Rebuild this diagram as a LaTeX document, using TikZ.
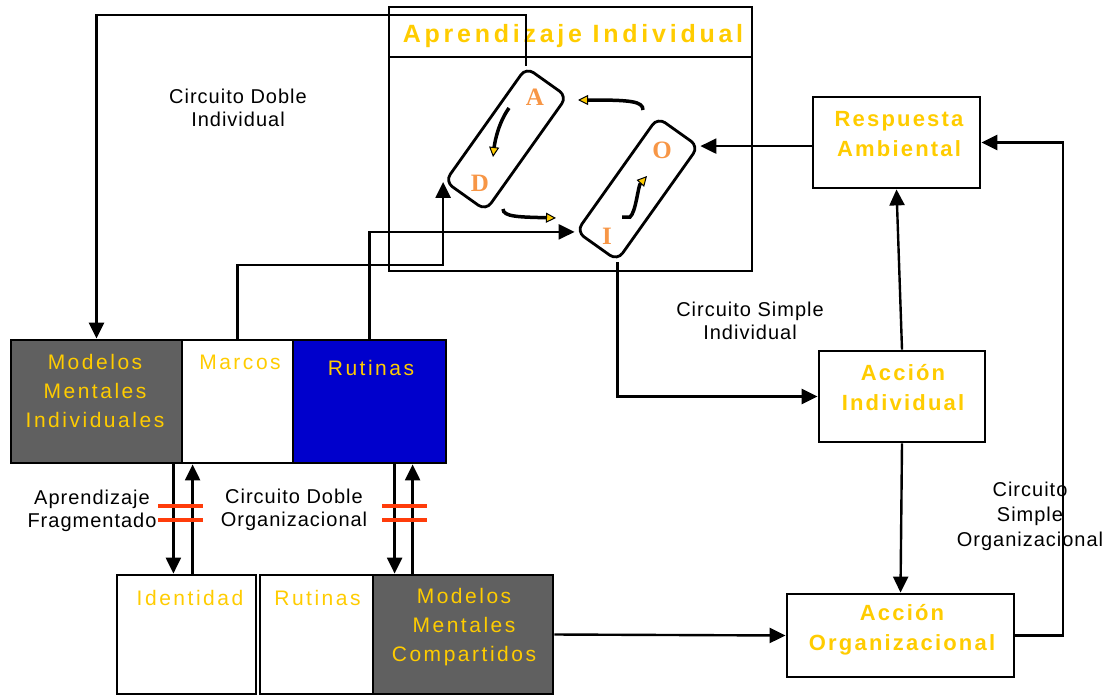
\documentclass[tikz,border=0pt]{standalone}
\usepackage{fontspec}
\usepackage{tikz}
\usetikzlibrary{arrows.meta,positioning,calc}
\setmainfont{Liberation Sans}
\newfontfamily\labfont[LetterSpace=5]{Liberation Sans}
\newfontfamily\yelfont[LetterSpace=12]{Liberation Sans}
\newfontfamily\yelbold[LetterSpace=10]{Liberation Sans Bold}
\newfontfamily\titfont[LetterSpace=15]{Liberation Sans Bold}
\newfontfamily\letfont{Liberation Serif Bold}
\definecolor{ayellow}{RGB}{255,204,0}
\definecolor{lorange}{RGB}{247,150,70}
\definecolor{dgray}{RGB}{96,96,96}
\definecolor{rblue}{RGB}{0,0,204}
\definecolor{rbar}{RGB}{255,60,10}
\tikzset{
    boxline/.style={
        draw=black,
        line width=2.8pt,
        inner sep=0pt
    },
    cyclebox/.style={
        draw=black,
        line width=2.8pt,
        rounded corners=9pt,
        rotate=54.6,
        minimum width=140pt,
        minimum height=50pt,
        inner sep=0pt
    },
    % flechas principales
    mainarrow/.style={
        line width=2.4pt,
        black,
        -{Triangle[length=16pt, width=15pt]}
    },
    cyclearrow/.style={
        line width=3.5pt,
        black,
        -{Triangle[length=10pt, width=10pt, line width=1pt, fill=ayellow]}
    },
    redbar/.style={line width=4.5pt, rbar},
    yellowtext/.style={text=ayellow, align=center, font=\yelfont\fontsize{21}{29}\selectfont},
    yellowbold/.style={text=ayellow, align=center, font=\yelbold\fontsize{22}{30}\selectfont},
    blacktext/.style={text=black, align=center, font=\labfont\fontsize{20}{23}\selectfont},
    letter/.style={text=lorange, font=\letfont\fontsize{25}{25}\selectfont}
}
\begin{document}
\begin{tikzpicture}[x=1pt,y=-1pt]
    \useasboundingbox (0,0) rectangle (1107,696);

    % Aprendizaje Individual
    \node[boxline, minimum width=363pt, minimum height=50pt] (aititle) at (570.5,32) {};
    \node[boxline, minimum width=363pt, minimum height=214pt] (aibody) at (570.5,164) {};
    \node[yellowbold, font=\titfont\fontsize{25}{30}\selectfont] (aitext) at (573,36) {Aprendizaje Individual};

    \node[cyclebox] (ad) at (506,139) {};
    \node[cyclebox] (oi) at (637.5,189) {};
    \node[letter] (la) at (535,97) {A};
    \node[letter] (ld) at (480,183) {D};
    \node[letter] (lo) at (662,150) {O};
    \node[letter] (li) at (607,236) {I};

    \draw[cyclearrow] (509,108) .. controls (499,122) and (495,140) .. (493,157);
    \draw[cyclearrow] (503,209) .. controls (503,217) and (520,217) .. (556,218);
    \draw[cyclearrow] (622,217) -- (630,217) .. controls (636,212) and (638,186) .. (647,176);
    \draw[cyclearrow] (643,110) .. controls (643,101) and (630,100) .. (578,100);

    % fila de arriba
    \node[boxline, fill=dgray, minimum width=171pt, minimum height=123pt] (mmi) at (96.5,401.5) {};
    \node[boxline, fill=white, minimum width=111pt, minimum height=123pt] (marcos) at (237.5,401.5) {};
    \node[boxline, fill=rblue, minimum width=153pt, minimum height=123pt] (rutA) at (369.5,401.5) {};
    \node[yellowtext] (mmitext) at (95,391) {Modelos\\Mentales\\Individuales};
    \node[yellowtext] (marcostext) at (240,362) {Marcos};
    \node[yellowtext] (rutAtext) at (371,368) {Rutinas};

    % fila de abajo
    \node[boxline, fill=white, minimum width=139pt, minimum height=119pt] (ident) at (186.5,634.5) {};
    \node[boxline, fill=white, minimum width=113pt, minimum height=119pt] (rutB) at (316.5,634.5) {};
    \node[boxline, fill=dgray, minimum width=180pt, minimum height=119pt] (mmc) at (463,634.5) {};
    \node[yellowtext] (identtext) at (190,598) {Identidad};
    \node[yellowtext] (rutBtext) at (317.5,598) {Rutinas};
    \node[yellowtext] (mmctext) at (464,627) {Modelos\\Mentales\\Compartidos};

    % acciones
    \node[boxline, minimum width=167pt, minimum height=91pt] (ra) at (896.5,142.5) {};
    \node[yellowbold] (ratext) at (899,134) {Respuesta\\Ambiental};
    \node[boxline, minimum width=166pt, minimum height=91pt] (ai) at (902,396.5) {};
    \node[yellowbold] (aitext2) at (903,388) {Acción\\Individual};
    \node[boxline, minimum width=227pt, minimum height=83pt] (ao) at (900.5,635.5) {};
    \node[yellowbold] (aotext) at (902,630) {Acción\\Organizacional};

    % etiquetas
    \node[blacktext] (cdi) at (238,108) {Circuito Doble\\Individual};
    \node[blacktext] (af) at (92,511) {Aprendizaje\\Fragmentado};
    \node[blacktext] (cdo) at (294,510) {Circuito Doble\\Organizacional};
    \node[blacktext] (csi) at (750,321) {Circuito Simple\\Individual};
    \node[blacktext, font=\labfont\fontsize{20}{25}\selectfont] (cso) at (1030,516) {Circuito\\Simple\\Organizacional};

    % circuitos
    \coordinate (topy) at (0,15);
    \coordinate (midy) at (0,265);
    \coordinate (rx) at (1063,0);
    \draw[mainarrow] (ad.north east) -- (ad.north east |- topy) -| (mmi.north);
    \draw[mainarrow] (marcos.north) -- (marcos.north |- midy) -| (ad.north west);
    \draw[mainarrow] (rutA.north) |- (oi.north west);
    \draw[mainarrow] (oi.south west) |- (ai.west);
    \draw[mainarrow] (oi.south east -| ra.west) -- (oi.south east);
    \draw[mainarrow] (ai.north) -- (ra.south);
    \draw[mainarrow] (ai.south) -- (ao.north);
    \draw[mainarrow] (ao.east) -| (rx |- ra.east) -- (ra.east);
    \draw[mainarrow] (mmc.east) -- (ao.west);

    \draw[mainarrow] ([xshift=-10pt]mmi.south east) -- ([xshift=-10pt]mmi.south east |- ident.north);
    \draw[mainarrow] ([xshift=12pt]marcos.south west |- ident.north) -- ([xshift=12pt]marcos.south west);
    \draw[mainarrow] ([xshift=23pt]mmc.north west |- rutA.south) -- ([xshift=23pt]mmc.north west);
    \draw[mainarrow] ([xshift=41pt]mmc.north west) -- ([xshift=41pt]mmc.north west |- rutA.south);

    \draw[redbar] (158,506) -- (203,506) (158,520) -- (203,520);
    \draw[redbar] (382,506) -- (427,506) (382,520) -- (427,520);
\end{tikzpicture}
\end{document}
